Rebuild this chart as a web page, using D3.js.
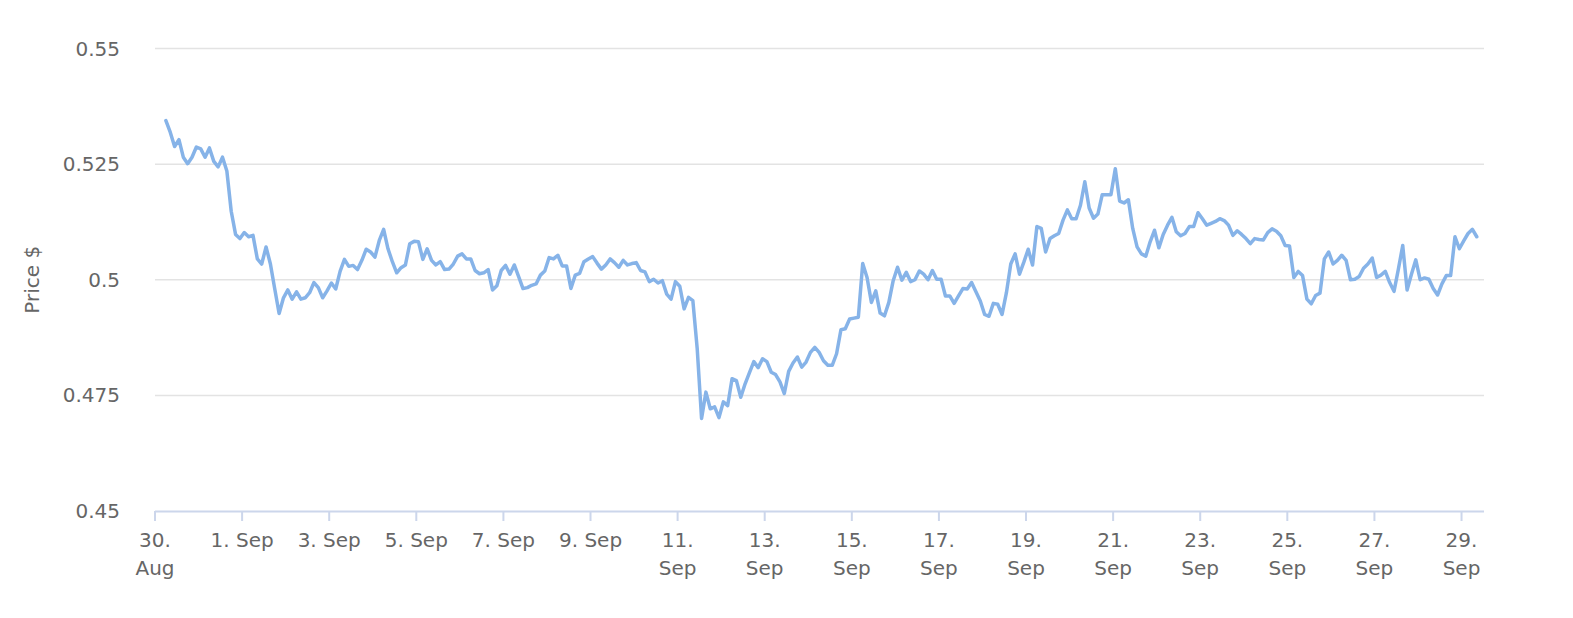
<!DOCTYPE html>
<html>
<head>
<meta charset="utf-8">
<script src="https://cdn.jsdelivr.net/npm/d3@7"></script>
<style>
  body { margin: 0; background: #fff; }
  svg { display: block; font-family: "DejaVu Sans", sans-serif; }
</style>
</head>
<body>
<svg id="chart"></svg>
<script>
// price samples, one every 2.4 hours from 30 Aug 06:00
const startTime = Date.UTC(2019, 7, 30, 6, 0);
const stepMinutes = 144;
const prices = [
  0.5344, 0.5319, 0.5288, 0.5303, 0.5265, 0.5251, 0.5265, 0.5287, 0.5283, 0.5265,
  0.5285, 0.5256, 0.5244, 0.5265, 0.5235, 0.5148, 0.5098, 0.5089, 0.5102, 0.5093,
  0.5096, 0.5045, 0.5034, 0.5071, 0.5034, 0.4980, 0.4927, 0.4961, 0.4978, 0.4958,
  0.4974, 0.4958, 0.4961, 0.4972, 0.4994, 0.4983, 0.4961, 0.4976, 0.4993, 0.4980,
  0.5018, 0.5044, 0.5029, 0.5031, 0.5022, 0.5042, 0.5066, 0.5060, 0.5049, 0.5085,
  0.5109, 0.5067, 0.5039, 0.5015, 0.5026, 0.5032, 0.5078, 0.5083, 0.5082, 0.5044,
  0.5067, 0.5042, 0.5032, 0.5039, 0.5022, 0.5023, 0.5034, 0.5051, 0.5056, 0.5045,
  0.5045, 0.5020, 0.5013, 0.5015, 0.5022, 0.4978, 0.4987, 0.5020, 0.5031, 0.5012,
  0.5032, 0.5007, 0.4981, 0.4983, 0.4988, 0.4991, 0.5010, 0.5019, 0.5048, 0.5045,
  0.5053, 0.5030, 0.5030, 0.4981, 0.5010, 0.5014, 0.5039, 0.5045, 0.5050, 0.5036,
  0.5023, 0.5032, 0.5045, 0.5037, 0.5027, 0.5042, 0.5032, 0.5035, 0.5037, 0.5020,
  0.5017, 0.4996, 0.5001, 0.4993, 0.4998, 0.4969, 0.4958, 0.4996, 0.4986, 0.4937,
  0.4962, 0.4955, 0.4851, 0.4700, 0.4757, 0.4721, 0.4725, 0.4702, 0.4736, 0.4728,
  0.4786, 0.4782, 0.4746, 0.4775, 0.4799, 0.4823, 0.4810, 0.4829, 0.4823, 0.4800,
  0.4795, 0.4779, 0.4754, 0.4802, 0.4820, 0.4833, 0.4811, 0.4822, 0.4843, 0.4854,
  0.4843, 0.4825, 0.4815, 0.4815, 0.4840, 0.4892, 0.4894, 0.4915, 0.4917, 0.4919,
  0.5035, 0.5005, 0.4951, 0.4976, 0.4928, 0.4922, 0.4951, 0.4998, 0.5027, 0.4999,
  0.5016, 0.4996, 0.5000, 0.5019, 0.5012, 0.5000, 0.5020, 0.5001, 0.5001, 0.4965,
  0.4965, 0.4949, 0.4965, 0.4981, 0.4980, 0.4994, 0.4974, 0.4954, 0.4925, 0.4921,
  0.4949, 0.4947, 0.4925, 0.4972, 0.5034, 0.5056, 0.5012, 0.5038, 0.5066, 0.5032,
  0.5115, 0.5111, 0.5060, 0.5089, 0.5095, 0.5100, 0.5129, 0.5151, 0.5132, 0.5132,
  0.5161, 0.5212, 0.5155, 0.5133, 0.5142, 0.5184, 0.5184, 0.5184, 0.5240, 0.5170,
  0.5166, 0.5173, 0.5111, 0.5071, 0.5056, 0.5051, 0.5082, 0.5107, 0.5069, 0.5098,
  0.5118, 0.5135, 0.5104, 0.5095, 0.5100, 0.5115, 0.5115, 0.5145, 0.5132, 0.5118,
  0.5122, 0.5126, 0.5132, 0.5128, 0.5118, 0.5096, 0.5106, 0.5098, 0.5089, 0.5078,
  0.5089, 0.5087, 0.5086, 0.5102, 0.5110, 0.5105, 0.5095, 0.5074, 0.5073, 0.5005,
  0.5018, 0.5009, 0.4958, 0.4948, 0.4966, 0.4971, 0.5045, 0.5060, 0.5034, 0.5042,
  0.5053, 0.5042, 0.5000, 0.5001, 0.5007, 0.5025, 0.5034, 0.5047, 0.5005, 0.5010,
  0.5018, 0.4994, 0.4975, 0.5023, 0.5074, 0.4978, 0.5012, 0.5043, 0.5000, 0.5004,
  0.5001, 0.4981, 0.4967, 0.4991, 0.5009, 0.5009, 0.5093, 0.5067, 0.5084, 0.5100,
  0.5109, 0.5093
];

const yTicks = [0.45, 0.475, 0.5, 0.525, 0.55];
const yTickLabels = ["0.45", "0.475", "0.5", "0.525", "0.55"];

const tickDates = [
  Date.UTC(2019, 7, 30), Date.UTC(2019, 8, 1), Date.UTC(2019, 8, 3), Date.UTC(2019, 8, 5),
  Date.UTC(2019, 8, 7), Date.UTC(2019, 8, 9), Date.UTC(2019, 8, 11), Date.UTC(2019, 8, 13),
  Date.UTC(2019, 8, 15), Date.UTC(2019, 8, 17), Date.UTC(2019, 8, 19), Date.UTC(2019, 8, 21),
  Date.UTC(2019, 8, 23), Date.UTC(2019, 8, 25), Date.UTC(2019, 8, 27), Date.UTC(2019, 8, 29)
];
// two-line labels are split with "|"
const tickLabels = [
  "30.|Aug", "1. Sep", "3. Sep", "5. Sep", "7. Sep", "9. Sep", "11.|Sep", "13.|Sep",
  "15.|Sep", "17.|Sep", "19.|Sep", "21.|Sep", "23.|Sep", "25.|Sep", "27.|Sep", "29.|Sep"
];

const width = 1573;
const height = 618;
const plot = { left: 155, right: 1484, top: 48.5, bottom: 511 };

const data = prices.map((p, i) => ({
  date: new Date(startTime + i * stepMinutes * 60000),
  price: p
}));

const svg = d3.select("#chart").attr("width", width).attr("height", height);

const x = d3
  .scaleUtc()
  .domain([Date.UTC(2019, 7, 30), Date.UTC(2019, 8, 29, 11, 50)])
  .range([plot.left, plot.right - 1]);

const y = d3.scaleLinear().domain([0.45, 0.55]).range([plot.bottom, plot.top]);

// grid lines
svg
  .append("g")
  .selectAll("line")
  .data(yTicks.slice(1))
  .join("line")
  .attr("x1", plot.left)
  .attr("x2", plot.right)
  .attr("y1", (d) => y(d))
  .attr("y2", (d) => y(d))
  .attr("stroke", "#e3e3e3")
  .attr("stroke-width", 1.5);

// y labels
svg
  .append("g")
  .selectAll("text")
  .data(yTicks)
  .join("text")
  .attr("x", 120)
  .attr("y", (d) => y(d) + 7)
  .attr("text-anchor", "end")
  .attr("fill", "#666666")
  .style("font-size", "20px")
  .text((d, i) => yTickLabels[i]);

// y title
svg
  .append("text")
  .attr("transform", `translate(39,${(plot.top + plot.bottom) / 2}) rotate(-90)`)
  .attr("text-anchor", "middle")
  .attr("fill", "#666666")
  .style("font-size", "20px")
  .text("Price $");

// x axis line + ticks
const xAxis = svg.append("g");
xAxis
  .append("line")
  .attr("x1", plot.left)
  .attr("x2", plot.right)
  .attr("y1", plot.bottom + 0.5)
  .attr("y2", plot.bottom + 0.5)
  .attr("stroke", "#ccd6eb")
  .attr("stroke-width", 2);

xAxis
  .selectAll(".tick")
  .data(tickDates)
  .join("line")
  .attr("class", "tick")
  .attr("x1", (d) => x(d))
  .attr("x2", (d) => x(d))
  .attr("y1", plot.bottom)
  .attr("y2", plot.bottom + 10)
  .attr("stroke", "#ccd6eb")
  .attr("stroke-width", 2);

const labels = xAxis
  .selectAll(".xlabel")
  .data(tickDates)
  .join("text")
  .attr("class", "xlabel")
  .attr("text-anchor", "middle")
  .attr("fill", "#666666")
  .style("font-size", "20px");

labels.each(function (d, i) {
  const parts = tickLabels[i].split("|");
  d3.select(this)
    .selectAll("tspan")
    .data(parts)
    .join("tspan")
    .attr("x", x(d))
    .attr("y", (p, j) => 547 + j * 28)
    .text((p) => p);
});

// price line
const line = d3
  .line()
  .x((d) => x(d.date))
  .y((d) => y(d.price))
  .curve(d3.curveLinear);

svg
  .append("path")
  .datum(data)
  .attr("d", line)
  .attr("fill", "none")
  .attr("stroke", "#86b3e8")
  .attr("stroke-width", 3.5)
  .attr("stroke-linejoin", "round")
  .attr("stroke-linecap", "round");
</script>
</body>
</html>
